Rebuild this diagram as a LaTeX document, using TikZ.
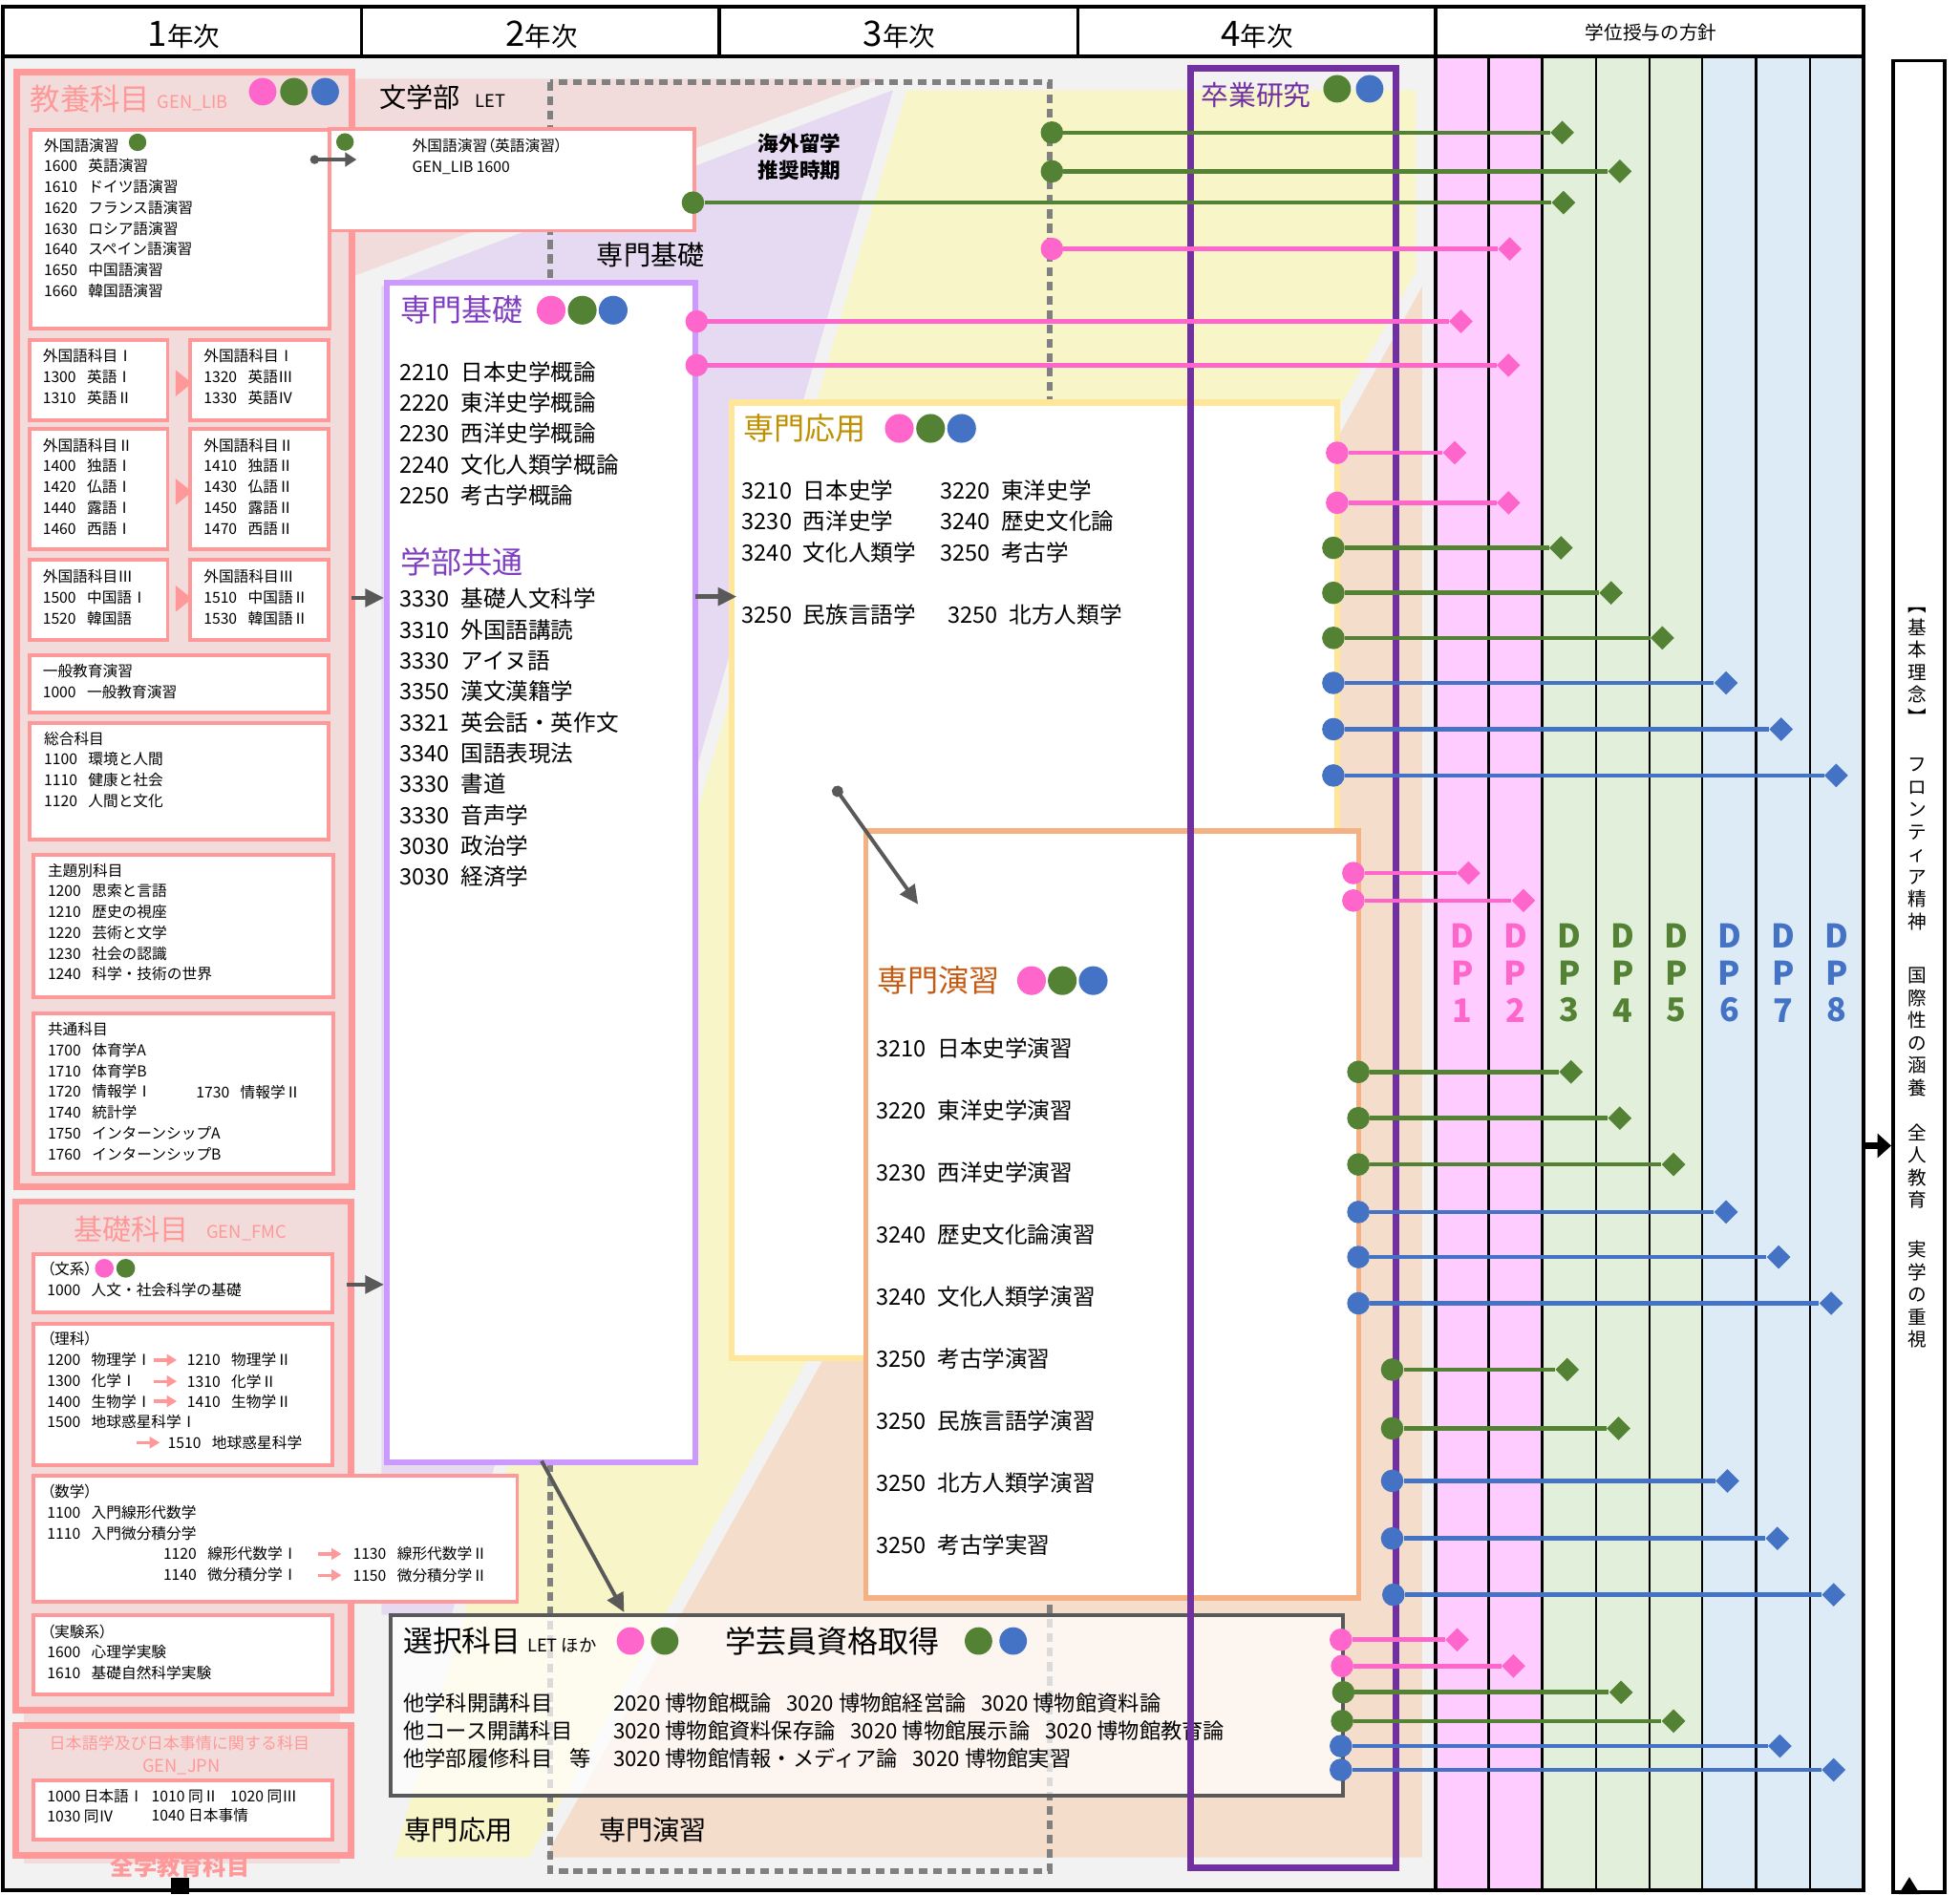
\documentclass[tikz,border=0pt]{standalone}
\usepackage{fontspec}
\setmainfont{Noto Sans CJK JP}
\usetikzlibrary{arrows.meta, positioning, shapes.geometric}
\tikzset{>={Triangle[length=15pt,width=14pt]}}

\definecolor{bggray}{HTML}{F2F2F2}
\definecolor{kpink}{HTML}{F2DCDB}
\definecolor{kline}{HTML}{FF9999}
\definecolor{lav}{HTML}{E5DAF2}
\definecolor{yel}{HTML}{F8F6C8}
\definecolor{peach}{HTML}{F5DDCC}
\definecolor{senline}{HTML}{CC99FF}
\definecolor{sentext}{HTML}{7F3FBF}
\definecolor{oyline}{HTML}{FFE699}
\definecolor{oytext}{HTML}{BF9000}
\definecolor{enline}{HTML}{F4B183}
\definecolor{entext}{HTML}{C55A11}
\definecolor{darkg}{HTML}{595959}
\definecolor{dashg}{HTML}{808080}
\definecolor{sotsu}{HTML}{7030A0}
\definecolor{dpp}{HTML}{FF66CC}
\definecolor{dpg}{HTML}{548235}
\definecolor{dpb}{HTML}{4472C4}
\definecolor{dppbg}{HTML}{FFCCFF}
\definecolor{dpgbg}{HTML}{E2EFDA}
\definecolor{dpbbg}{HTML}{DDEBF7}

\tikzset{
  cbox/.style={anchor=north west, inner sep=0, fill=white},
  kbox/.style={cbox, draw=kline, line width=3},
  txt/.style={anchor=north west, inner sep=0, align=left},
  small/.style={txt, font=\fontsize{12}{16.6}\selectfont},
  big/.style={txt, font=\fontsize{18}{24.7}\selectfont},
  ttl/.style={anchor=west, inner sep=0, font=\fontsize{24.5}{24.5}\selectfont},
  lab/.style={anchor=west, inner sep=0, font=\fontsize{21.5}{21.5}\selectfont},
  vtext/.style={inner sep=0, align=center, font=\fontsize{15}{18}\selectfont},
  dplab/.style={inner sep=0, align=center, font=\bfseries\fontsize{26}{29.5}\selectfont},
  pdot/.style={circle, fill=dpp, inner sep=0, minimum size=18},
  gdot/.style={circle, fill=dpg, inner sep=0, minimum size=18},
  bdot/.style={circle, fill=dpb, inner sep=0, minimum size=18},
  ptip/.style={diamond, fill=dpp, inner sep=0, minimum size=19},
  gtip/.style={diamond, fill=dpg, inner sep=0, minimum size=19},
  btip/.style={diamond, fill=dpb, inner sep=0, minimum size=19},
  pline/.style={draw=dpp, line width=3.5},
  gline/.style={draw=dpg, line width=3.5},
  bline/.style={draw=dpb, line width=3.5},
  garrow/.style={->, draw=darkg, line width=3.5},
  parrow/.style={draw=kline, line width=2.5, -{Triangle[length=8pt,width=9pt]}},
}

\begin{document}
\begin{tikzpicture}[x=1pt, y=-1pt]
    \useasboundingbox (0,0) rectangle (1567,1514.4);
    \fill[white] (0,0) rectangle (1567,1514.4);

    \fill[bggray] (3,45) rectangle (1148,1511);
    \fill[dppbg] (1148,45) rectangle (1233,1511);
    \fill[dpgbg] (1233,45) rectangle (1361,1511);
    \fill[dpbbg] (1361,45) rectangle (1490,1511);
    \draw[line width=1.8] (1190,45) -- (1190,1511) (1233,45) -- (1233,1511) (1276,45) -- (1276,1511)
        (1319,45) -- (1319,1511) (1361,45) -- (1361,1511) (1404,45) -- (1404,1511) (1447,45) -- (1447,1511);

    \fill[kpink] (282,63) -- (704,63) -- (282,221) -- cycle;
    \fill[lav] (714,72) -- (305,229) -- (305,1291) -- (361,1291) -- cycle;
    \fill[yel] (725,72) -- (1132,72) -- (1132,217) -- (423,1485) -- (315,1485) -- cycle;
    \fill[peach] (1137,229) -- (1137,1485) -- (436,1485) -- cycle;
    \draw[dashg, line width=4.5, dash pattern=on 7pt off 4.5pt] (440,65.5) rectangle (839,1496);

    \node[lab] (bungaku) at (303.4,77.5) {文学部\hspace{12pt}{\fontsize{14}{14}\selectfont LET}};
    \node[lab] (kisoLab) at (477,204) {専門基礎};
    \node[txt, font=\bfseries\fontsize{16.5}{21.8}\selectfont] (ryugaku) at (606,106.5) {海外留学\\推奨時期};
    \node[lab] (oyoLab) at (323.4,1463) {専門応用};
    \node[lab] (enshuLab) at (479,1463) {専門演習};

    % 教養科目
    \node[cbox, draw=kline, fill=kpink, line width=5, minimum width=268, minimum height=891] (kyoyo) at (11,55.2) {};
    \node[ttl, text=kline, font=\fontsize{24}{24}\selectfont] (kyoyoT) at (24,79.4) {教養科目};
    \node[anchor=west, inner sep=0, text=kline, font=\fontsize{14}{14}\selectfont] (kyoyoE) at (125.5,82.8) {GEN\_LIB};
    \fill[dpp] (210,73.3) circle (11);
    \fill[dpg] (235,73.3) circle (11);
    \fill[dpb] (260,73.3) circle (11);

    \node[kbox, minimum width=239, minimum height=159] (gaikoku) at (23,102.5) {};
    \node[small] (gaikokuT) at (35,110.5) {外国語演習\\1600 \enspace{}英語演習\\1610 \enspace{}ドイツ語演習\\1620 \enspace{}フランス語演習\\1630 \enspace{}ロシア語演習\\1640 \enspace{}スペイン語演習\\1650 \enspace{}中国語演習\\1660 \enspace{}韓国語演習};
    \fill[dpg] (110,113.8) circle (7);

    \node[kbox, minimum width=292, minimum height=81.4] (eigo) at (262,101.5) {};
    \fill[dpg] (275.8,113.5) circle (7);
    \node[small] (eigoT) at (329.5,110.5) {{\addfontfeature{RawFeature=+palt}外国語演習（英語演習）}\\GEN\_LIB 1600};
    \coordinate (ea) at (248,127.6);
    \coordinate (eb) at (285,127.6);
    \draw[darkg, line width=2.5, {Circle[length=7pt]}-{Triangle[length=9pt,width=11pt]}] (ea) -- (eb);

    \node[kbox, minimum width=110.5, minimum height=64.3] (f1L) at (22,270.2) {};
    \node[kbox, minimum width=110.5, minimum height=64.3] (f1R) at (150.7,270.2) {};
    \node[small] (f1Lt) at (34,278.9) {外国語科目Ⅰ\\1300 \enspace{}英語Ⅰ\\1310 \enspace{}英語Ⅱ};
    \node[small] (f1Rt) at (162.7,278.9) {外国語科目Ⅰ\\1320 \enspace{}英語Ⅲ\\1330 \enspace{}英語Ⅳ};
    \fill[kline] (f1L.east) ++(5,-8) -- ++(0,21) -- ++(13,-10.5) -- cycle;

    \node[kbox, minimum width=110.5, minimum height=96.4] (f2L) at (22,341.5) {};
    \node[kbox, minimum width=110.5, minimum height=96.4] (f2R) at (150.7,341.5) {};
    \node[small] (f2Lt) at (34,350.2) {外国語科目Ⅱ\\1400 \enspace{}独語Ⅰ\\1420 \enspace{}仏語Ⅰ\\1440 \enspace{}露語Ⅰ\\1460 \enspace{}西語Ⅰ};
    \node[small] (f2Rt) at (162.7,350.2) {外国語科目Ⅱ\\1410 \enspace{}独語Ⅱ\\1430 \enspace{}仏語Ⅱ\\1450 \enspace{}露語Ⅱ\\1470 \enspace{}西語Ⅱ};
    \fill[kline] (f2L.east) ++(5,-8.5) -- ++(0,21) -- ++(13,-10.5) -- cycle;

    \node[kbox, minimum width=110.5, minimum height=64.3] (f3L) at (22,446) {};
    \node[kbox, minimum width=110.5, minimum height=64.3] (f3R) at (150.7,446) {};
    \node[small] (f3Lt) at (34,455.3) {外国語科目Ⅲ\\1500 \enspace{}中国語Ⅰ\\1520 \enspace{}韓国語};
    \node[small] (f3Rt) at (162.7,455.3) {外国語科目Ⅲ\\1510 \enspace{}中国語Ⅱ\\1530 \enspace{}韓国語Ⅱ};
    \fill[kline] (f3L.east) ++(5,-11.5) -- ++(0,21) -- ++(13,-10.5) -- cycle;

    \node[kbox, minimum width=239, minimum height=46.2] (ippan) at (22,522.3) {};
    \node[small] (ippanT) at (34,531) {一般教育演習\\1000 \enspace{}一般教育演習};
    \node[kbox, minimum width=239, minimum height=93.4] (sogo) at (22,576.6) {};
    \node[small] (sogoT) at (35,584.6) {総合科目\\1100 \enspace{}環境と人間\\1110 \enspace{}健康と社会\\1120 \enspace{}人間と文化};
    \node[kbox, minimum width=240, minimum height=113.5] (shudai) at (25,682) {};
    \node[small] (shudaiT) at (38,690.1) {主題別科目\\1200 \enspace{}思索と言語\\1210 \enspace{}歴史の視座\\1220 \enspace{}芸術と文学\\1230 \enspace{}社会の認識\\1240 \enspace{}科学・技術の世界};
    \node[kbox, minimum width=240, minimum height=128.6] (kyotsu) at (25,808.6) {};
    \node[small] (kyotsuT) at (38,817.3) {共通科目\\1700 \enspace{}体育学A\\1710 \enspace{}体育学B\\1720 \enspace{}情報学Ⅰ\\1740 \enspace{}統計学\\1750 \enspace{}インターンシップA\\1760 \enspace{}インターンシップB};
    \node[small] (kyotsu2) at (156.7,867.5) {1730 \enspace{}情報学Ⅱ};

    % 基礎科目
    \fill[kpink] (19,958) rectangle (272,1490);
    \node[cbox, draw=kline, fill=kpink, line width=5, minimum width=268, minimum height=407] (kiso) at (10,958) {};
    \node[ttl, text=kline, font=\fontsize{23}{23}\selectfont] (kisoT) at (59,983) {基礎科目};
    \node[anchor=west, inner sep=0, text=kline, font=\fontsize{14}{14}\selectfont] (kisoE) at (165,986) {GEN\_FMC};

    \node[kbox, minimum width=239, minimum height=47] (bunkei) at (25,1001) {};
    \node[small] (bunkeiT) at (37.5,1008.6) {{\addfontfeature{RawFeature=+palt}（文系）}\\1000 \enspace{}人文・社会科学の基礎};
    \fill[dpp] (83.4,1014) circle (7.5);
    \fill[dpg] (100.5,1014) circle (7.5);

    \node[kbox, minimum width=239, minimum height=113] (rika) at (25,1057) {};
    \node[small] (rikaT) at (37.5,1064.6) {{\addfontfeature{RawFeature=+palt}（理科）}\\1200 \enspace{}物理学Ⅰ\\1300 \enspace{}化学Ⅰ\\1400 \enspace{}生物学Ⅰ\\1500 \enspace{}地球惑星科学Ⅰ};
    \node[small] (rika1) at (149.4,1081.6) {1210 \enspace{}物理学Ⅱ};
    \node[small] (rika2) at (149.4,1098.6) {1310 \enspace{}化学Ⅱ};
    \node[small] (rika3) at (149.4,1114.6) {1410 \enspace{}生物学Ⅱ};
    \node[small] (rika4) at (134,1147.6) {1510 \enspace{}地球惑星科学};
    \draw[parrow] ([xshift=-26.6pt]rika1.west) -- ([xshift=-8pt]rika1.west);
    \draw[parrow] ([xshift=-26.6pt]rika2.west) -- ([xshift=-8pt]rika2.west);
    \draw[parrow] ([xshift=-26.6pt]rika3.west) -- ([xshift=-8pt]rika3.west);
    \draw[parrow] ([xshift=-25pt]rika4.west) -- ([xshift=-6.3pt]rika4.west);

    \node[kbox, minimum width=387, minimum height=101] (sugaku) at (25,1178) {};
    \node[small] (sugakuT) at (37.5,1186.6) {{\addfontfeature{RawFeature=+palt}（数学）}\\1100 \enspace{}入門線形代数学\\1110 \enspace{}入門微分積分学};
    \node[small] (sugakuL) at (130.4,1236.6) {1120 \enspace{}線形代数学Ⅰ\\1140 \enspace{}微分積分学Ⅰ};
    \node[small] (sugaku1) at (282,1236.6) {1130 \enspace{}線形代数学Ⅱ};
    \node[small] (sugaku2) at (282,1253.6) {1150 \enspace{}微分積分学Ⅱ};
    \draw[parrow] ([xshift=-28pt]sugaku1.west) -- ([xshift=-9pt]sugaku1.west);
    \draw[parrow] ([xshift=-28pt]sugaku2.west) -- ([xshift=-9pt]sugaku2.west);

    \node[kbox, minimum width=239, minimum height=63] (jikken) at (25,1290) {};
    \node[small] (jikkenT) at (37.5,1298.6) {{\addfontfeature{RawFeature=+palt}（実験系）}\\1600 \enspace{}心理学実験\\1610 \enspace{}基礎自然科学実験};

    \node[cbox, draw=kline, fill=kpink, line width=5, minimum width=268, minimum height=104] (nihon) at (10,1377) {};
    \node[inner sep=0, text=kline, font=\fontsize{13}{13}\selectfont] (nihonT) at (143.5,1394) {日本語学及び日本事情に関する科目};
    \node[inner sep=0, text=kline, font=\fontsize{14}{14}\selectfont] (nihonE) at (145,1413) {GEN\_JPN};
    \node[kbox, minimum width=239, minimum height=47] (nihonB) at (25,1422) {};
    \node[txt, font=\fontsize{12}{16}\selectfont] (nihon1) at (37.5,1430.6) {1000 日本語Ⅰ\\1030 同Ⅳ};
    \node[txt, font=\fontsize{12}{16}\selectfont] (nihon2) at (121,1430.6) {1010 同Ⅱ\\1040 日本事情};
    \node[txt, font=\fontsize{12}{16}\selectfont] (nihon3) at (184,1430.6) {1020 同Ⅲ};
    \node[inner sep=0, text=kline, font=\bfseries\fontsize{18.5}{18.5}\selectfont] (zengaku) at (144,1492) {全学教育科目};

    % 専門基礎
    \node[cbox, draw=senline, line width=4.5, minimum width=247, minimum height=943] (senki) at (307,224) {};
    \node[ttl, text=sentext] (senkiT) at (320,248) {専門基礎};
    \fill[dpp] (440.6,248) circle (11.5);
    \fill[dpg] (465.5,248) circle (11.5);
    \fill[dpb] (490.2,248) circle (11.5);
    \node[big] (senkiL1) at (319.4,288.6) {2210\enspace{}日本史学概論\\2220\enspace{}東洋史学概論\\2230\enspace{}西洋史学概論\\2240\enspace{}文化人類学概論\\2250\enspace{}考古学概論};
    \node[ttl, text=sentext] (senkiT2) at (320,449) {学部共通};
    \node[big] (senkiL2) at (319.4,470) {3330\enspace{}基礎人文科学\\3310\enspace{}外国語講読\\3330\enspace{}アイヌ語\\3350\enspace{}漢文漢籍学\\3321\enspace{}英会話・英作文\\3340\enspace{}国語表現法\\3330\enspace{}書道\\3330\enspace{}音声学\\3030\enspace{}政治学\\3030\enspace{}経済学};

    % 専門応用
    \node[cbox, draw=oyline, line width=5, minimum width=484, minimum height=764] (senyo) at (582.6,319.4) {};
    \node[ttl, text=oytext] (senyoT) at (594,342.5) {専門応用};
    \fill[dpp] (719,342.5) circle (11.5);
    \fill[dpg] (744,342.5) circle (11.5);
    \fill[dpb] (768.8,342.5) circle (11.5);
    \node[big] (senyoL1) at (593,383.7) {3210\enspace{}日本史学\\3230\enspace{}西洋史学\\3240\enspace{}文化人類学};
    \node[big] (senyoL2) at (751.4,383.7) {3220\enspace{}東洋史学\\3240\enspace{}歴史文化論\\3250\enspace{}考古学};
    \node[big] (senyoL3) at (593,482.9) {3250\enspace{}民族言語学};
    \node[big] (senyoL4) at (757.8,482.9) {3250\enspace{}北方人類学};

    % 専門演習
    \node[cbox, draw=enline, line width=4.5, minimum width=394, minimum height=613] (senen) at (690,662) {};
    \node[ttl, text=entext] (senenT) at (701,784) {専門演習};
    \fill[dpp] (824.7,784) circle (11.5);
    \fill[dpg] (849.3,784) circle (11.5);
    \fill[dpb] (874,784) circle (11.5);
    \node[txt, font=\fontsize{18}{49.6}\selectfont] (senenL) at (700.5,829.9) {3210\enspace{}日本史学演習\\3220\enspace{}東洋史学演習\\3230\enspace{}西洋史学演習\\3240\enspace{}歴史文化論演習\\3240\enspace{}文化人類学演習\\3250\enspace{}考古学演習\\3250\enspace{}民族言語学演習\\3250\enspace{}北方人類学演習\\3250\enspace{}考古学実習};

    % 選択科目
    \node[cbox, draw=darkg, line width=3, fill opacity=0.72, minimum width=762, minimum height=144] (sentaku) at (310.5,1290) {};
    \node[ttl, font=\fontsize{23.5}{23.5}\selectfont] (sentakuT) at (322.4,1312) {選択科目\hspace{5pt}{\fontsize{14}{14}\selectfont LET ほか}};
    \fill[dpp] (504,1312) circle (11);
    \fill[dpg] (531.4,1312) circle (11);
    \node[ttl] (gakugei) at (579.6,1312) {学芸員資格取得};
    \fill[dpg] (782.3,1312) circle (11);
    \fill[dpb] (810,1312) circle (11);
    \node[txt, font=\fontsize{17}{22}\selectfont] (sentakuL) at (322.4,1353.8) {他学科開講科目\\他コース開講科目\\他学部履修科目\hspace{14pt}等};
    \node[txt, font=\fontsize{17}{22}\selectfont] (sentakuR) at (490.2,1353.8) {2020 博物館概論\hspace{12pt}3020 博物館経営論\hspace{12pt}3020 博物館資料論\\3020 博物館資料保存論\hspace{12pt}3020 博物館展示論\hspace{12pt}3020 博物館教育論\\3020 博物館情報・メディア論\hspace{12pt}3020 博物館実習};

    % 矢印
    \coordinate (ka) at (281,478);
    \draw[garrow] (ka) -- (ka -| senki.west);
    \coordinate (kb) at (277,1027);
    \draw[garrow] (kb) -- (kb -| senki.west);
    \coordinate (kc) at (556,477);
    \coordinate (kd) at (589,477);
    \draw[garrow] (kc) -- (kd);
    \coordinate (dg1) at (667,629);
    \coordinate (dg1e) at (734,723);
    \draw[darkg, line width=3, {Circle[length=9pt]}->] (dg1) -- (dg1e);
    \coordinate (dg2) at (433,1168);
    \coordinate (dg2e) at (499,1289);
    \draw[garrow, line width=3] (dg2) -- (dg2e);

    % 卒業研究
    \node[cbox, fill=none, draw=sotsu, line width=5, minimum width=164, minimum height=1439] (sotsuken) at (949.5,52) {};
    \node[ttl, text=sotsu, font=\fontsize{22}{22}\selectfont] (sotsuT) at (960,76) {卒業研究};
    \fill[dpg] (1069,71) circle (11);
    \fill[dpb] (1095,71) circle (11);

    % 枠
    \draw[line width=3] (2.5,5) rectangle (1490,45);
    \draw[line width=2.5] (289,5) -- (289,45) (575,5) -- (575,45) (862,5) -- (862,45);
    \draw[line width=3] (2.5,45) -- (2.5,1511) -- (1490,1511) -- (1490,45);
    \draw[line width=3] (1148,5) -- (1148,1511);
    \fill (137,1501.5) rectangle (151,1514.4);

    \node[font=\fontsize{21}{21}\selectfont] (year1) at (147,28) {{\fontsize{28}{28}\selectfont 1}年次};
    \node[font=\fontsize{21}{21}\selectfont] (year2) at (433,28) {{\fontsize{28}{28}\selectfont 2}年次};
    \node[font=\fontsize{21}{21}\selectfont] (year3) at (719,28) {{\fontsize{28}{28}\selectfont 3}年次};
    \node[font=\fontsize{21}{21}\selectfont] (year4) at (1005,28) {{\fontsize{28}{28}\selectfont 4}年次};
    \node[font=\fontsize{15}{15}\selectfont] (gakui) at (1320,26) {学位授与の方針};

    % DP
    \node[dplab, text=dpp] (dp1) at (1169,778) {D\\P\\1};
    \node[dplab, text=dpp] (dp2) at (1211.5,778) {D\\P\\2};
    \node[dplab, text=dpg] (dp3) at (1254.5,778) {D\\P\\3};
    \node[dplab, text=dpg] (dp4) at (1297.5,778) {D\\P\\4};
    \node[dplab, text=dpg] (dp5) at (1340,778) {D\\P\\5};
    \node[dplab, text=dpb] (dp6) at (1382.5,778) {D\\P\\6};
    \node[dplab, text=dpb] (dp7) at (1425.5,778) {D\\P\\7};
    \node[dplab, text=dpb] (dp8) at (1468.5,778) {D\\P\\8};

    \node[gdot] (c1) at (841,106) {};    \node[gtip] (t1) at (1249,106) {};   \draw[gline] (c1) -- (t1);
    \node[gdot] (c2) at (841,137) {};    \node[gtip] (t2) at (1295,137) {};   \draw[gline] (c2) -- (t2);
    \node[gdot] (c3) at (554,162) {};    \node[gtip] (t3) at (1250,162) {};   \draw[gline] (c3) -- (t3);
    \node[pdot] (c4) at (841,199) {};    \node[ptip] (t4) at (1207,199) {};   \draw[pline] (c4) -- (t4);
    \node[pdot] (c5) at (557,257) {};    \node[ptip] (t5) at (1168,257) {};   \draw[pline] (c5) -- (t5);
    \node[pdot] (c6) at (557,292) {};    \node[ptip] (t6) at (1206,292) {};   \draw[pline] (c6) -- (t6);
    \node[pdot] (c7) at (1069,362) {};   \node[ptip] (t7) at (1163,362) {};   \draw[pline] (c7) -- (t7);
    \node[pdot] (c8) at (1069,402) {};   \node[ptip] (t8) at (1206,402) {};   \draw[pline] (c8) -- (t8);
    \node[gdot] (c9) at (1066,438) {};   \node[gtip] (t9) at (1248,438) {};   \draw[gline] (c9) -- (t9);
    \node[gdot] (c10) at (1066,474) {};  \node[gtip] (t10) at (1288,474) {};  \draw[gline] (c10) -- (t10);
    \node[gdot] (c11) at (1066,510) {};  \node[gtip] (t11) at (1329,510) {};  \draw[gline] (c11) -- (t11);
    \node[bdot] (c12) at (1066,546) {};  \node[btip] (t12) at (1380,546) {};  \draw[bline] (c12) -- (t12);
    \node[bdot] (c13) at (1066,583) {};  \node[btip] (t13) at (1424,583) {};  \draw[bline] (c13) -- (t13);
    \node[bdot] (c14) at (1066,620) {};  \node[btip] (t14) at (1468,620) {};  \draw[bline] (c14) -- (t14);
    \node[pdot] (c15) at (1082,698) {};  \node[ptip] (t15) at (1174,698) {};  \draw[pline] (c15) -- (t15);
    \node[pdot] (c16) at (1082,720) {};  \node[ptip] (t16) at (1218,720) {};  \draw[pline] (c16) -- (t16);
    \node[gdot] (c17) at (1086,857) {};  \node[gtip] (t17) at (1256,857) {};  \draw[gline] (c17) -- (t17);
    \node[gdot] (c18) at (1086,894) {};  \node[gtip] (t18) at (1295,894) {};  \draw[gline] (c18) -- (t18);
    \node[gdot] (c19) at (1086,931) {};  \node[gtip] (t19) at (1338,931) {};  \draw[gline] (c19) -- (t19);
    \node[bdot] (c20) at (1086,969) {};  \node[btip] (t20) at (1380,969) {};  \draw[bline] (c20) -- (t20);
    \node[bdot] (c21) at (1086,1005) {}; \node[btip] (t21) at (1422,1005) {}; \draw[bline] (c21) -- (t21);
    \node[bdot] (c22) at (1086,1042) {}; \node[btip] (t22) at (1464,1042) {}; \draw[bline] (c22) -- (t22);
    \node[gdot] (c23) at (1113,1095) {}; \node[gtip] (t23) at (1253,1095) {}; \draw[gline] (c23) -- (t23);
    \node[gdot] (c24) at (1113,1142) {}; \node[gtip] (t24) at (1294,1142) {}; \draw[gline] (c24) -- (t24);
    \node[bdot] (c25) at (1113,1184) {}; \node[btip] (t25) at (1381,1184) {}; \draw[bline] (c25) -- (t25);
    \node[bdot] (c26) at (1113,1230) {}; \node[btip] (t26) at (1421,1230) {}; \draw[bline] (c26) -- (t26);
    \node[bdot] (c27) at (1114,1275) {}; \node[btip] (t27) at (1466,1275) {}; \draw[bline] (c27) -- (t27);
    \node[pdot] (c28) at (1072,1311) {}; \node[ptip] (t28) at (1165,1311) {}; \draw[pline] (c28) -- (t28);
    \node[pdot] (c29) at (1073,1332) {}; \node[ptip] (t29) at (1210,1332) {}; \draw[pline] (c29) -- (t29);
    \node[gdot] (c30) at (1074,1353) {}; \node[gtip] (t30) at (1296,1353) {}; \draw[gline] (c30) -- (t30);
    \node[gdot] (c31) at (1073,1376) {}; \node[gtip] (t31) at (1338,1376) {}; \draw[gline] (c31) -- (t31);
    \node[bdot] (c32) at (1072,1396) {}; \node[btip] (t32) at (1423,1396) {}; \draw[bline] (c32) -- (t32);
    \node[bdot] (c33) at (1072,1415) {}; \node[btip] (t33) at (1466,1415) {}; \draw[bline] (c33) -- (t33);

    % 基本理念
    \node[cbox, draw, line width=3, minimum width=41, minimum height=1464] (kihon) at (1512,47) {};
    \coordinate (dpR) at (1490,916);
    \draw[line width=6, -{Triangle[length=11pt,width=19pt]}] (dpR) -- (dpR -| kihon.west);
    \fill (1518,1514.4) -- (1535,1514.4) -- (1526.5,1500.7) -- cycle;
    \node[vtext] (kr1) at (1532.5,532.5) {︻\\基\\本\\理\\念\\︼};
    \node[vtext] (kr2) at (1532.5,675) {フ\\ロ\\ン\\テ\\ィ\\ア\\精\\神};
    \node[vtext] (kr3) at (1532.5,825) {国\\際\\性\\の\\涵\\養};
    \node[vtext] (kr4) at (1532.5,932.5) {全\\人\\教\\育};
    \node[vtext] (kr5) at (1532.5,1035) {実\\学\\の\\重\\視};
\end{tikzpicture}
\end{document}
